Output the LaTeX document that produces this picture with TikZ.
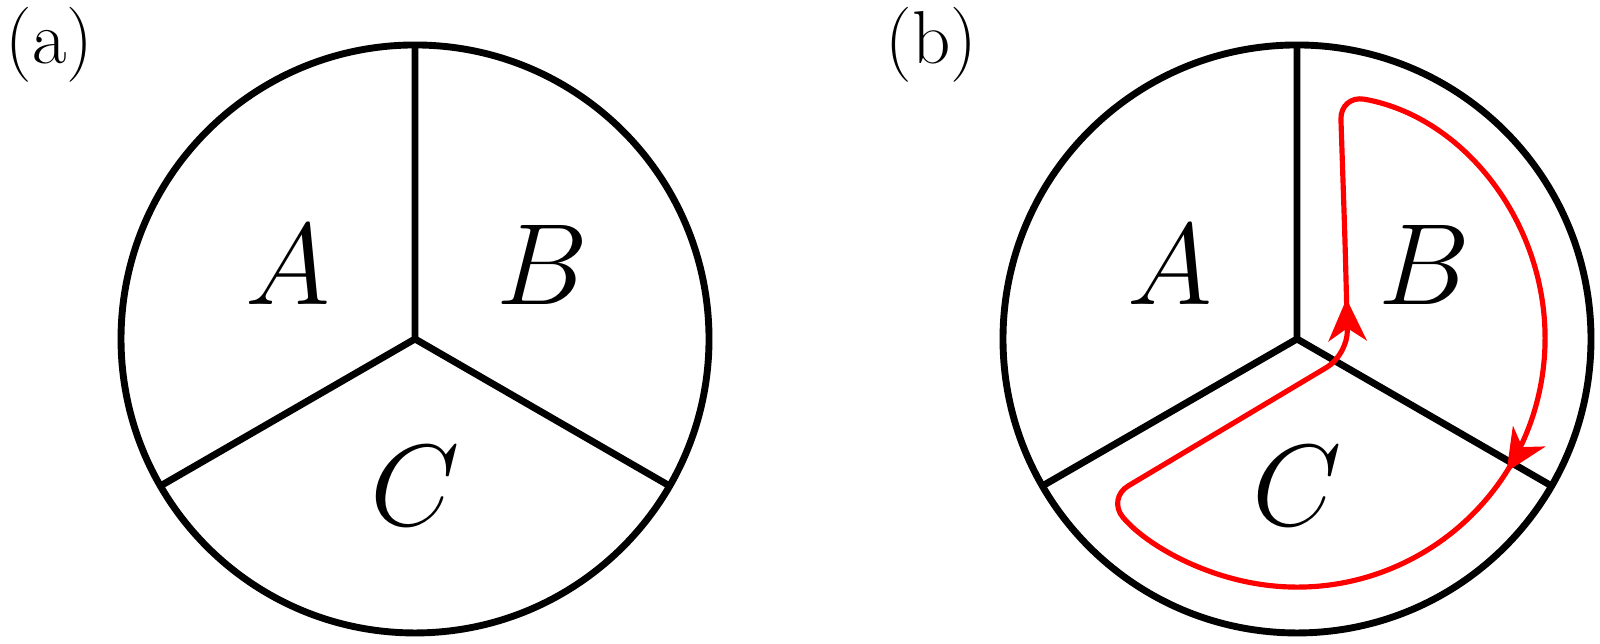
\documentclass[tikz,border=0pt]{standalone}
\usetikzlibrary{arrows.meta,decorations.markings}
\newcommand{\regionlabel}[1]{\scalebox{1.35}{\Huge$#1$}}
\newcommand{\taglabel}[1]{\scalebox{1.05}{\huge #1}}
\begin{document}
\begin{tikzpicture}
\tikzstyle{wall}=[line width=2pt,line join=round]
\tikzstyle{region}=[inner sep=0pt]
\tikzstyle{tag}=[inner sep=0pt]
\tikzstyle{trip}=[red,line width=1.5pt,rounded corners=0.25cm,postaction={decorate},
  decoration={markings,
    mark=at position 6.1cm with {\arrow{Stealth[length=4.3mm,width=3.9mm,inset=1.3mm]}},
    mark=at position -0.84cm with {\arrow{Stealth[length=4.3mm,width=3.9mm,inset=1.3mm]}}}]
\useasboundingbox (-4.235,-3.112) rectangle (12.092,3.459);

% (a)
\coordinate (o1) at (0,0);
\node[tag] (ta) at (-3.73,3) {\taglabel{(a)}};
\draw[wall] (o1) circle (3);
\draw[wall] (o1) -- ++(90:3) (o1) -- ++(210:3) (o1) -- ++(-30:3);
\node[region] (A1) at (150:1.5) {\regionlabel{A}};
\node[region] (B1) at (30:1.5) {\regionlabel{B}};
\node[region] (C1) at (270:1.5) {\regionlabel{C}};

% (b)
\coordinate (o2) at (9,0);
\node[tag] (tb) at (5.27,3) {\taglabel{(b)}};
\draw[wall] (o2) circle (3);
\draw[wall] (o2) -- ++(90:3) (o2) -- ++(210:3) (o2) -- ++(-30:3);
\node[region] (A2) at ([shift={(150:1.5)}]o2) {\regionlabel{A}};
\node[region] (B2) at ([shift={(30:1.5)}]o2) {\regionlabel{B}};
\node[region] (C2) at ([shift={(270:1.5)}]o2) {\regionlabel{C}};

\begin{scope}[shift={(o2)}]
\draw[trip] (0.49,1.0) -- (0.44,2.49) arc[start angle=80,end angle=-140,radius=2.53]
  -- (0.52,-0.16) -- cycle;
\end{scope}
\end{tikzpicture}
\end{document}
